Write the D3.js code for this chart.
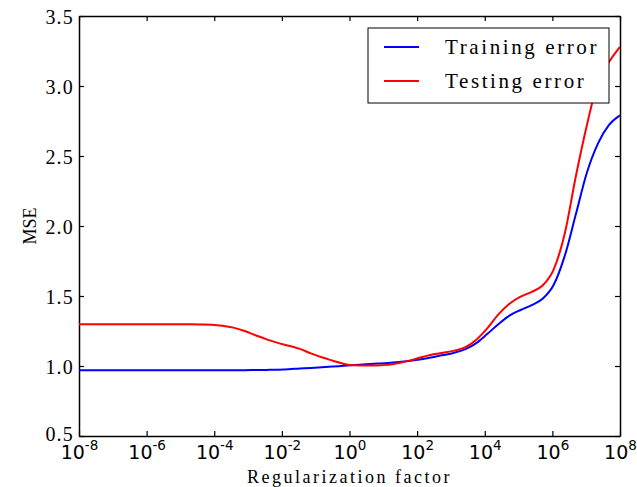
<!DOCTYPE html>
<html>
<head>
<meta charset="utf-8">
<script src="https://cdn.jsdelivr.net/npm/d3@7"></script>
<style>
  body { margin: 0; background: #fff; }
  svg text { font-family: "Liberation Serif", "DejaVu Serif", serif; fill: #000; }
</style>
</head>
<body>
<div id="chart"></div>
<script>
// exponents of the regularization factor (log10)
var exps = [-8.00, -7.67, -7.35, -7.02, -6.69, -6.37, -6.04, -5.71, -5.39, -5.06,
            -4.73, -4.41, -4.08, -3.76, -3.43, -3.10, -2.78, -2.45, -2.12, -1.80,
            -1.47, -1.14, -0.82, -0.49, -0.16, 0.16, 0.49, 0.82, 1.14, 1.47,
            1.80, 2.12, 2.45, 2.78, 3.10, 3.43, 3.76, 4.08, 4.41, 4.73,
            5.06, 5.39, 5.71, 6.04, 6.37, 6.69, 7.02, 7.35, 7.67, 8.00];

var trainErr = [0.970, 0.970, 0.970, 0.970, 0.970, 0.970, 0.970, 0.970, 0.970, 0.970,
                0.970, 0.970, 0.970, 0.970, 0.970, 0.970, 0.971, 0.972, 0.974, 0.977,
                0.982, 0.986, 0.991, 0.996, 1.002, 1.007, 1.012, 1.017, 1.022, 1.029,
                1.037, 1.048, 1.063, 1.078, 1.095, 1.120, 1.165, 1.230, 1.300, 1.360,
                1.400, 1.435, 1.480, 1.580, 1.790, 2.080, 2.380, 2.590, 2.720, 2.790];

var testErr = [1.298, 1.298, 1.298, 1.298, 1.298, 1.298, 1.298, 1.298, 1.298, 1.298,
               1.298, 1.297, 1.295, 1.288, 1.274, 1.250, 1.220, 1.190, 1.165, 1.145,
               1.122, 1.090, 1.062, 1.038, 1.015, 1.005, 1.003, 1.004, 1.008, 1.022,
               1.040, 1.062, 1.082, 1.095, 1.110, 1.135, 1.190, 1.270, 1.370, 1.445,
               1.495, 1.530, 1.575, 1.690, 1.950, 2.350, 2.720, 3.030, 3.170, 3.280];

var xTickExps = [-8, -6, -4, -2, 0, 2, 4, 6, 8];
var yTicks = [0.5, 1.0, 1.5, 2.0, 2.5, 3.0, 3.5];
var seriesNames = ["Training error", "Testing error"];
var seriesColors = ["#0000ff", "#ff0000"];

(function() {
  var W = 637, H = 487;
  var pL = 79, pR = 620, pT = 16, pB = 436;

  var x = d3.scaleLog().domain([1e-8, 1e8]).range([pL, pR]);
  var y = d3.scaleLinear().domain([0.5, 3.5]).range([pB, pT]);

  var svg = d3.select('#chart').append('svg').attr('width', W).attr('height', H);

  svg.append('clipPath').attr('id', 'clip').append('rect')
    .attr('x', pL).attr('y', pT).attr('width', pR - pL).attr('height', pB - pT);

  var xTickVals = xTickExps.map(function(e) { return Math.pow(10, e); });

  // frame axes, ticks pointing inward
  var xAxis = d3.axisBottom(x).tickValues(xTickVals).tickSizeInner(-5).tickSizeOuter(0).tickFormat('');
  var xAxisTop = d3.axisTop(x).tickValues(xTickVals).tickSizeInner(-5).tickSizeOuter(0).tickFormat('');
  var yAxis = d3.axisLeft(y).tickValues(yTicks).tickSizeInner(-5).tickSizeOuter(0).tickFormat(d3.format('.1f'));
  var yAxisRight = d3.axisRight(y).tickValues(yTicks).tickSizeInner(-5).tickSizeOuter(0).tickFormat('');

  var gx = svg.append('g').attr('transform', 'translate(0,' + pB + ')').call(xAxis);
  svg.append('g').attr('transform', 'translate(0,' + pT + ')').call(xAxisTop);
  var gy = svg.append('g').attr('transform', 'translate(' + pL + ',0)').call(yAxis);
  svg.append('g').attr('transform', 'translate(' + pR + ',0)').call(yAxisRight);

  svg.selectAll('.domain').attr('stroke', '#000').attr('stroke-width', 1.5);
  svg.selectAll('.tick line').attr('stroke', '#000').attr('stroke-width', 1.2);

  gy.selectAll('.tick text').attr('x', -5).attr('dy', '0.35em')
    .style('font-size', '20px').style('letter-spacing', '1.2px')
    .style('font-family', '"Liberation Serif", serif');
  gy.selectAll('.tick').filter(function(d) { return d === 0.5; }).select('text').attr('dy', '0.2em');

  // x tick labels as 10 with superscript exponent (mathtext style)
  gx.selectAll('.tick').each(function(d, i) {
    var t = d3.select(this).append('text')
      .attr('y', 23).attr('text-anchor', 'middle')
      .style('font-size', '19px').style('font-family', '"DejaVu Sans", sans-serif');
    t.append('tspan').text('10');
    t.append('tspan').attr('dy', '-9').style('font-size', '13.5px').text(xTickExps[i]);
  });

  // lines
  var pts = function(vals) {
    return vals.map(function(v, i) { return [Math.pow(10, exps[i]), v]; });
  };
  var line = d3.line().x(function(d) { return x(d[0]); }).y(function(d) { return y(d[1]); })
    .curve(d3.curveMonotoneX);

  var plot = svg.append('g').attr('clip-path', 'url(#clip)');
  [trainErr, testErr].forEach(function(s, i) {
    plot.append('path').datum(pts(s))
      .attr('fill', 'none').attr('stroke', seriesColors[i]).attr('stroke-width', 2)
      .attr('d', line);
  });

  // axis titles
  svg.append('text').attr('x', (pL + pR) / 2).attr('y', 483).attr('text-anchor', 'middle')
    .style('font-size', '18px').style('letter-spacing', '2.5px').text('Regularization factor');
  svg.append('text').attr('transform', 'translate(36,' + ((pT + pB) / 2) + ') rotate(-90)')
    .attr('text-anchor', 'middle').style('font-size', '18px').text('MSE');

  // legend
  var lg = svg.append('g');
  lg.append('rect').attr('x', 368).attr('y', 28).attr('width', 241).attr('height', 75)
    .attr('fill', '#fff').attr('stroke', '#000').attr('stroke-width', 1);
  seriesNames.forEach(function(n, i) {
    var yy = 47 + i * 34;
    lg.append('line').attr('x1', 384).attr('x2', 419).attr('y1', yy).attr('y2', yy)
      .attr('stroke', seriesColors[i]).attr('stroke-width', 2);
    lg.append('text').attr('x', 445).attr('y', yy).attr('dy', '0.35em')
      .style('font-size', '21px').style('letter-spacing', '2.6px').text(n);
  });
})();
</script>
</body>
</html>
